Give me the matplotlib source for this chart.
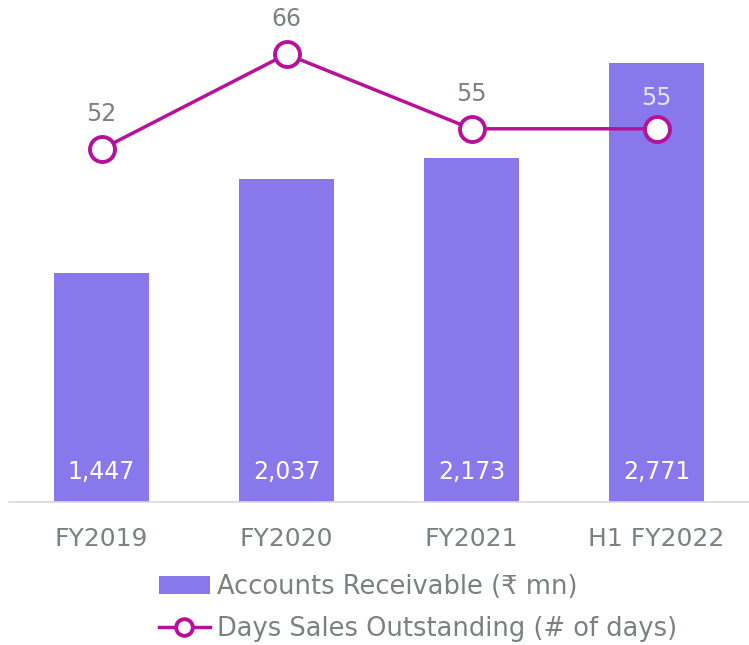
import numpy as np
import matplotlib.pyplot as plt
from matplotlib.lines import Line2D
from matplotlib.patches import Patch

categories = ['FY2019', 'FY2020', 'FY2021', 'H1 FY2022']
receivables = [1447, 2037, 2173, 2771]   # Rs mn
dso = [52, 66, 55, 55]                   # days

barColor = '#8878EC'
lineColor = '#B7119B'
textColor = '#7A8280'

plt.rcParams['font.family'] = ['DejaVu Sans']

fig = plt.figure(figsize=(7.49, 6.45), dpi=100)
ax = fig.add_axes([9 / 749, 1 - 502 / 645, 740 / 749, 475 / 645])
x = np.arange(len(categories))

ax.bar(x, receivables, width=0.51, color=barColor, zorder=2)
ax.set_xlim(-0.5, 3.5)
ax.set_ylim(0, 3000)
for xi, v in zip(x, receivables):
    ax.text(xi, 115, f'{v:,}', ha='center', va='bottom', color='white', fontsize=17)

ax.set_xticks(x)
ax.set_xticklabels(categories, fontsize=18, color=textColor)
ax.tick_params(axis='x', length=0, pad=18)
ax.set_yticks([])
for s in ['top', 'left', 'right']:
    ax.spines[s].set_visible(False)
ax.spines['bottom'].set_color('#D9D9D9')
ax.spines['bottom'].set_linewidth(1.2)

ax2 = ax.twinx()
ax2.set_ylim(0, 70)
ax2.plot(x, dso, color=lineColor, linewidth=2.5, marker='o', markersize=18,
         markerfacecolor='white', markeredgewidth=2.8, zorder=3, clip_on=False)
labelColors = [textColor, textColor, textColor, '#E6E2FB']
labelOffsets = [3.4, 3.4, 3.4, 2.8]
for xi, v, c, off in zip(x, dso, labelColors, labelOffsets):
    ax2.text(xi, v + off, str(v), ha='center', va='bottom', color=c, fontsize=17)
ax2.set_yticks([])
for s in ['top', 'left', 'right', 'bottom']:
    ax2.spines[s].set_visible(False)

handles = [Patch(facecolor=barColor, edgecolor='none'),
           Line2D([0], [0], color=lineColor, linewidth=2.5, marker='o', markersize=12,
                  markerfacecolor='white', markeredgewidth=2.8)]
labels = ['Accounts Receivable (₹ mn)', 'Days Sales Outstanding (# of days)']
fig.legend(handles, labels, loc='center', bbox_to_anchor=(418 / 749, 1 - 608 / 645),
           frameon=False, fontsize=18.5, labelcolor=textColor, handlelength=2.0,
           handletextpad=0.27, labelspacing=0.6, borderpad=0)

fig.savefig('out.png', dpi=100)
